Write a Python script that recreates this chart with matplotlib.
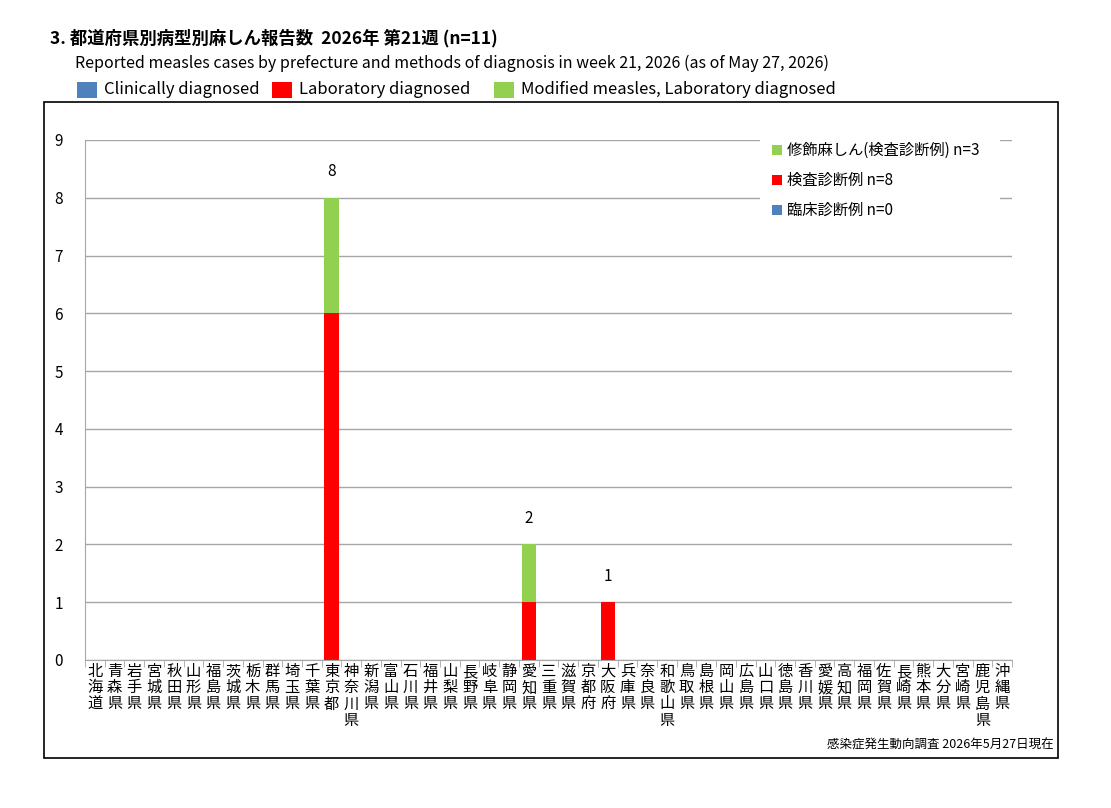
import matplotlib
matplotlib.use("Agg")
import matplotlib.pyplot as plt
from matplotlib.patches import Rectangle
import numpy as np

plt.rcParams['font.family'] = ['Noto Sans CJK JP', 'DejaVu Sans']

prefs = ["北海道","青森県","岩手県","宮城県","秋田県","山形県","福島県","茨城県","栃木県","群馬県",
         "埼玉県","千葉県","東京都","神奈川県","新潟県","富山県","石川県","福井県","山梨県","長野県",
         "岐阜県","静岡県","愛知県","三重県","滋賀県","京都府","大阪府","兵庫県","奈良県","和歌山県",
         "鳥取県","島根県","岡山県","広島県","山口県","徳島県","香川県","愛媛県","高知県","福岡県",
         "佐賀県","長崎県","熊本県","大分県","宮崎県","鹿児島県","沖縄県"]
clinical = {}
laboratory = {"東京都": 6, "愛知県": 1, "大阪府": 1}
modified = {"東京都": 2, "愛知県": 1}

c_blue, c_red, c_green = "#4f81bd", "#ff0000", "#92d050"
n = len(prefs)
x = np.arange(n)
clin = np.array([clinical.get(p, 0) for p in prefs])
lab = np.array([laboratory.get(p, 0) for p in prefs])
mod = np.array([modified.get(p, 0) for p in prefs])

fig = plt.figure(figsize=(11.11, 8.08), dpi=100)
W, H = 1111, 808
ax = fig.add_axes([85/W, 1-660/H, 927/W, 520/H])

ax.bar(x, clin, width=0.72, color=c_blue, edgecolor='none')
ax.bar(x, lab, bottom=clin, width=0.72, color=c_red, edgecolor='none')
ax.bar(x, mod, bottom=clin+lab, width=0.72, color=c_green, edgecolor='none')
tot = clin + lab + mod
for i, t in enumerate(tot):
    if t > 0:
        ax.text(i, t + 0.3, str(t), ha='center', va='bottom', fontsize=11)

ax.set_xlim(-0.5, n - 0.5)
ax.set_ylim(0, 9)
ax.set_yticks(range(10))
ax.tick_params(axis='y', length=0, labelsize=11, pad=16)
ax.yaxis.grid(True, color='#a6a6a6', lw=1)
ax.set_axisbelow(True)
for s in ['top', 'right']:
    ax.spines[s].set_visible(False)
ax.spines['left'].set_color('#a6a6a6')
ax.spines['bottom'].set_color('#a6a6a6')
ax.set_xticks(np.arange(n + 1) - 0.5, minor=True)
ax.tick_params(axis='x', which='minor', length=5, color='#a6a6a6')
ax.set_xticks(x)
ax.set_xticklabels(['\n'.join(p) for p in prefs], fontsize=11, linespacing=0.95, va='top')
ax.tick_params(axis='x', which='major', length=0, pad=2)

# inner legend
ax.add_patch(Rectangle((760/W, 1-228/H), 240/W, 92/H, transform=fig.transFigure,
                       facecolor='white', edgecolor='none', zorder=3))
items = [("修飾麻しん(検査診断例) n=3", c_green), ("検査診断例 n=8", c_red), ("臨床診断例 n=0", c_blue)]
for k, (lab_t, col) in enumerate(items):
    yy = 1 - (150 + 30 * k) / H
    fig.add_artist(Rectangle((772/W, yy - 5/H), 10/W, 10/H, facecolor=col, edgecolor='none',
                             transform=fig.transFigure, zorder=4))
    fig.text(787/W, yy, lab_t, fontsize=11, va='center', zorder=5)

# outer box
fig.add_artist(Rectangle((44/W, 1-758/H), 1014/W, 656/H, fill=False, edgecolor='black', lw=1.2,
                         transform=fig.transFigure))

fig.text(50/W, 1-38/H, "3. 都道府県別病型別麻しん報告数  2026年 第21週 (n=11)", fontsize=12.5,
         fontweight='bold', va='center')
fig.text(75/W, 1-63/H, "Reported measles cases by prefecture and methods of diagnosis in week 21, 2026 (as of May 27, 2026)",
         fontsize=11.5, va='center')
leg = [("Clinically diagnosed", c_blue, 77), ("Laboratory diagnosed", c_red, 272), ("Modified measles, Laboratory diagnosed", c_green, 494)]
for t, col, xp in leg:
    fig.add_artist(Rectangle((xp/W, 1-98/H), 20/W, 16/H, facecolor=col, edgecolor='none',
                             transform=fig.transFigure))
    fig.text((xp + 27)/W, 1-90/H, t, fontsize=12, va='center')

fig.text(1054/W, 1-745/H, "感染症発生動向調査 2026年5月27日現在", fontsize=9, ha='right', va='center')

fig.savefig("out.png", dpi=100, facecolor='white')
